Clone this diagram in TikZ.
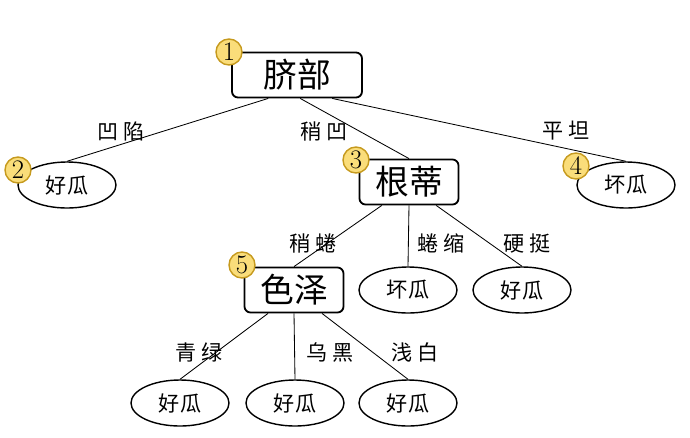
\documentclass[tikz,border=0pt]{standalone}
\usepackage{fontspec}
\newfontfamily\cjk{Noto Sans CJK SC}
\newfontfamily\cjklbl[LetterSpace=22]{Noto Sans CJK SC}
\usetikzlibrary{shapes,calc,positioning}
\definecolor{badge}{HTML}{FADD7A}
\definecolor{badgeline}{HTML}{C69A1E}
\tikzset{
	attr/.style={
		shape=rectangle,
		minimum height=1.125cm,
		minimum width=2.475cm,
		rounded corners=1ex,
		draw,
		line width=1.3pt,
		font=\cjk\fontsize{24}{26}\selectfont
	},
	outcome/.style={
		shape=ellipse,
		minimum width=2.45cm,
		minimum height=1.15cm,
		draw,
		line width=1pt,
		font=\cjk\fontsize{15}{17}\selectfont
	},
	num/.style={
		shape=circle,
		minimum size=0.65cm,
		inner sep=0pt,
		fill=badge,
		draw=badgeline,
		line width=1pt,
		font=\fontsize{19}{21}\selectfont
	},
	lbl/.style={
		font=\cjklbl\fontsize{15}{17}\selectfont
	},
	branch/.style={line width=0.6pt}
}

\begin{document}
\begin{tikzpicture}[x=0.025cm,y=-0.025cm]
	\useasboundingbox (0,0) rectangle (690,437);
	
	% attributes
	\node[attr, minimum width=3.25cm] (qibu)  at (297,75)  {脐部};
	\node[attr]                       (gendi) at (409,182) {根蒂};
	\node[attr]                       (seze)  at (294,290) {色泽};
	
	% leaves
	\node[outcome] (haoA) at (67,185)  {好瓜};
	\node[outcome] (huaiA) at (626,185) {坏瓜};
	\node[outcome] (huaiB) at (408,290) {坏瓜};
	\node[outcome] (haoB) at (522,290) {好瓜};
	\node[outcome] (haoC) at (180,403) {好瓜};
	\node[outcome] (haoD) at (295,403) {好瓜};
	\node[outcome] (haoE) at (408,403) {好瓜};
	
	% branches
	\draw[branch] ([xshift=-0.72cm]qibu.south) -- (haoA.north);
	\draw[branch] ([xshift=0.08cm]qibu.south)  -- (gendi.north);
	\draw[branch] ([xshift=0.88cm]qibu.south)  -- (huaiA.north);
	\draw[branch] ([xshift=-0.68cm]gendi.south) -- (seze.north);
	\draw[branch] (gendi.south) -- (huaiB.north);
	\draw[branch] ([xshift=0.68cm]gendi.south)  -- (haoB.north);
	\draw[branch] ([xshift=-0.65cm]seze.south) -- (haoC.north);
	\draw[branch] (seze.south) -- (haoD.north);
	\draw[branch] ([xshift=0.7cm]seze.south)   -- (haoE.north);
	
	% branch labels
	\node[lbl] (l1) at (121,131) {凹陷};
	\node[lbl] (l2) at (324,131) {稍凹};
	\node[lbl] (l3) at (566,131) {平坦};
	\node[lbl] (l4) at (313,243) {稍蜷};
	\node[lbl] (l5) at (441,243) {蜷缩};
	\node[lbl] (l6) at (527,243) {硬挺};
	\node[lbl] (l7) at (199,352) {青绿};
	\node[lbl] (l8) at (330,352) {乌黑};
	\node[lbl] (l9) at (415,352) {浅白};
	
	% step numbers
	\node[num] (n1) at (229,52)  {1};
	\node[num] (n2) at (18,170)  {2};
	\node[num] (n3) at (356,160) {3};
	\node[num] (n4) at (576,166) {4};
	\node[num] (n5) at (242,265) {5};
\end{tikzpicture}
\end{document}
